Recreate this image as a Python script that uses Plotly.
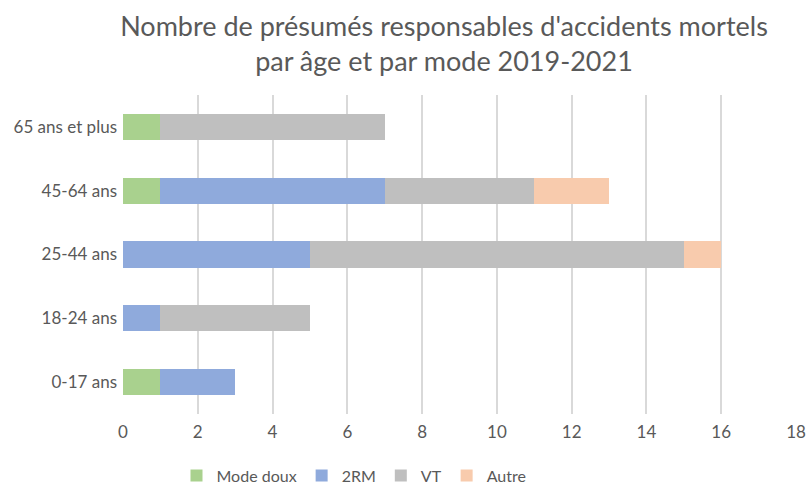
import plotly.graph_objects as go

categories = ["0-17 ans", "18-24 ans", "25-44 ans", "45-64 ans", "65 ans et plus"]
mode_doux = [1, 0, 0, 1, 1]
deux_rm = [2, 1, 5, 6, 0]
vt = [0, 4, 10, 4, 6]
autre = [0, 0, 1, 2, 0]
series_names = ["Mode doux", "2RM", "VT", "Autre"]
colors = ["#A9D18E", "#8FAADC", "#BFBFBF", "#F8CBAD"]
x_ticks = [0, 2, 4, 6, 8, 10, 12, 14, 16, 18]

FONT = "Lato, Roboto, sans-serif"
GREY = "#595959"

fig = go.Figure()
for name, vals, col in zip(series_names, [mode_doux, deux_rm, vt, autre], colors):
    fig.add_trace(go.Bar(y=categories, x=vals, name=name, orientation="h",
                         marker=dict(color=col, line=dict(width=0))))

fig.update_layout(
    barmode="stack",
    bargap=0.59,
    width=808, height=485,
    paper_bgcolor="white", plot_bgcolor="white",
    margin=dict(l=123, r=12, t=95, b=71, autoexpand=False),
    title=dict(text="Nombre de présumés responsables d'accidents mortels<br>par âge et par mode 2019-2021",
               x=444 / 808, xanchor="center", xref="container", y=1 - 36 / 485, yref="container", yanchor="middle",
               font=dict(family=FONT, size=27, color=GREY)),
    font=dict(family=FONT, size=17, color=GREY),
    legend=dict(orientation="h", x=354 / 808, xref="container", xanchor="center",
                y=-0.14, yanchor="top", itemwidth=30, tracegroupgap=0,
                font=dict(family=FONT, size=16, color=GREY),
                traceorder="normal"),
    xaxis=dict(range=[0, 18], tickvals=x_ticks, showgrid=True, gridcolor="#D9D9D9",
               gridwidth=1.5, zeroline=False, showline=False, ticks="", automargin=False,
               ticklabelstandoff=6,
               tickfont=dict(family=FONT, size=17, color=GREY)),
    yaxis=dict(showgrid=False, zeroline=False, showline=False, ticks="", automargin=False,
               ticklabelstandoff=5,
               tickfont=dict(family=FONT, size=17, color=GREY)),
    showlegend=True,
)
fig.write_html("out.html", config={"displayModeBar": False},
               post_script="document.body.style.margin='0';document.body.style.overflow='hidden';")
